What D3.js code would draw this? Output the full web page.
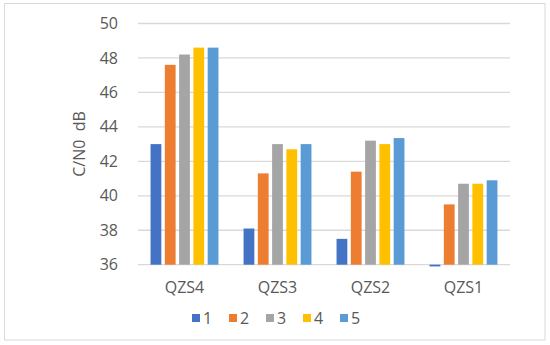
<!DOCTYPE html>
<html><head><meta charset="utf-8">
<script src="https://cdn.jsdelivr.net/npm/d3@7"></script>
<style>body{margin:0;background:#fff}svg{display:block}</style>
</head><body>
<script>
const categories = ["QZS4", "QZS3", "QZS2", "QZS1"];
const seriesNames = ["1", "2", "3", "4", "5"];
const s1 = [43.0, 38.1, 37.5, 35.9];
const s2 = [47.6, 41.3, 41.4, 39.5];
const s3 = [48.2, 43.0, 43.2, 40.7];
const s4 = [48.6, 42.7, 43.0, 40.7];
const s5 = [48.6, 43.0, 43.35, 40.9];
const yTicks = [36, 38, 40, 42, 44, 46, 48, 50];
const colors = ["#4472C4", "#ED7D31", "#A5A5A5", "#FFC000", "#5B9BD5"];
const series = [s1, s2, s3, s4, s5];

const W = 550, H = 345;
const svg = d3.select("body").append("svg").attr("width", W).attr("height", H);
svg.append("rect").attr("x", 4.5).attr("y", 3.5).attr("width", 540.5).attr("height", 336.5)
  .attr("fill", "#fff").attr("stroke", "#d9d9d9").attr("stroke-width", 1);

const pLeft = 138, pRight = 510, pTop = 23.5, pBottom = 264.7;
const y = d3.scaleLinear().domain([36, 50]).range([pBottom, pTop]);
const x0 = d3.scaleBand().domain(categories).range([pLeft, pRight]).paddingInner(0.27).paddingOuter(0.135);
const x1 = d3.scaleBand().domain(seriesNames).range([0, x0.bandwidth()]).paddingInner(0.245).paddingOuter(0);

const font = "'Open Sans', sans-serif";
const txt = "#595959";

// gridlines
svg.append("g").selectAll("line").data(yTicks).join("line")
  .attr("x1", pLeft).attr("x2", pRight)
  .attr("y1", d => y(d)).attr("y2", d => y(d))
  .attr("stroke", "#d9d9d9").attr("stroke-width", 1.3);

// y axis labels
const yAxis = d3.axisLeft(y).tickValues(yTicks).tickSize(0).tickPadding(0);
const ya = svg.append("g").attr("transform", `translate(${118},0)`).call(yAxis);
ya.select(".domain").remove();
ya.selectAll("text").attr("font-family", font).attr("font-size", 16).attr("fill", txt);

// y title
svg.append("text").attr("transform", `translate(85,144) rotate(-90)`)
  .attr("text-anchor", "middle").attr("font-family", font).attr("font-size", 16)
  .attr("fill", txt).attr("xml:space", "preserve").text("C/N0  dB");

// bars
const g = svg.append("g");
categories.forEach((c, ci) => {
  series.forEach((s, si) => {
    const v = s[ci];
    g.append("rect")
      .attr("x", x0(c) + x1(seriesNames[si]))
      .attr("width", x1.bandwidth())
      .attr("y", Math.min(y(v), y(36)))
      .attr("height", Math.abs(y(36) - y(v)))
      .attr("fill", colors[si]);
  });
});

// x axis labels
const xAxis = d3.axisBottom(x0).tickSize(0).tickPadding(0);
const xa = svg.append("g").attr("transform", `translate(0,${282})`).call(xAxis);
xa.select(".domain").remove();
xa.selectAll("text").attr("font-family", font).attr("font-size", 16).attr("fill", txt);

// legend
const legX = 192, legStep = 37;
const lg = svg.append("g");
seriesNames.forEach((n, i) => {
  lg.append("rect").attr("x", legX + i * legStep).attr("y", 314).attr("width", 8).attr("height", 8).attr("fill", colors[i]);
  lg.append("text").attr("x", legX + i * legStep + 11).attr("y", 323.5)
    .attr("font-family", font).attr("font-size", 16).attr("fill", txt).text(n);
});
</script>
</body></html>
